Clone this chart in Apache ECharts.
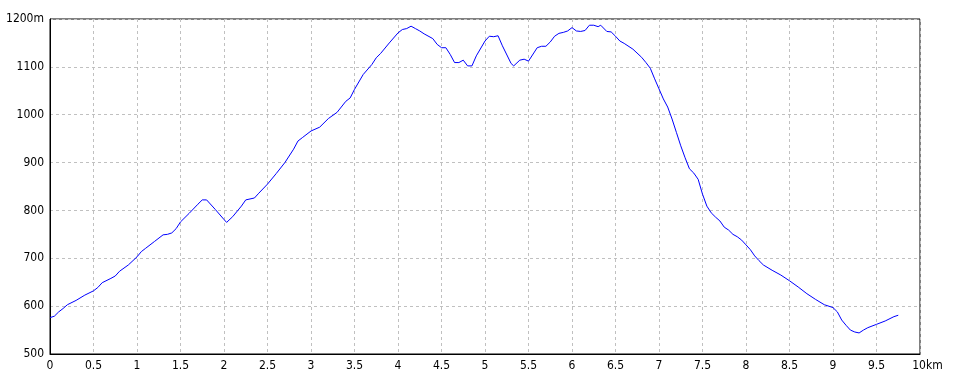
<!DOCTYPE html>
<html>
<head>
<meta charset="utf-8">
<script src="https://cdn.jsdelivr.net/npm/echarts@6/dist/echarts.min.js"></script>
<style>html,body{margin:0;padding:0;background:#fff;}#c{width:960px;height:384px;}</style>
</head>
<body>
<div id="c"></div>
<script>
const distKm = [0,0.05,0.1,0.15,0.2,0.3,0.4,0.5,0.55,0.6,0.7,0.75,0.8,0.9,1.0,1.05,1.1,1.2,1.3,1.35,1.4,1.45,1.5,1.6,1.7,1.75,1.8,1.9,2.0,2.03,2.1,2.2,2.25,2.35,2.4,2.5,2.6,2.7,2.8,2.85,2.9,3.0,3.1,
3.2,3.3,3.4,3.45,3.5,3.6,3.7,3.75,3.8,3.9,4.0,4.05,4.1,4.15,4.2,4.25,4.3,4.32,4.4,4.45,4.5,4.55,4.6,4.65,4.7,4.75,4.8,4.85,4.9,5.0,5.05,5.1,5.15,5.2,5.3,5.33,5.4,5.45,5.5,5.6,5.65,5.7,5.75,5.8,5.85,5.9,5.95,6.0,6.05,6.1,6.15,6.2,6.25,6.3,6.33,6.4,6.45,6.5,6.55,6.6,6.7,6.8,
6.85,6.9,6.95,7.0,7.05,7.1,7.15,7.2,7.25,7.3,7.35,7.4,7.45,7.5,7.55,7.6,7.65,7.7,7.75,7.8,7.85,7.9,7.95,8.0,8.05,8.1,8.15,8.2,8.3,8.4,8.5,8.6,8.7,8.8,8.9,9.0,9.05,9.1,9.15,9.2,9.25,9.3,9.35,9.4,9.5,9.6,9.7,9.75];
const elevM = [576,579,588,595,603,612,623,632,639,649,658,663,673,686,703,714,721,735,749,750,753,762,776,794,813,822,822,802,781,775,787,809,822,826,836,855,877,900,928,945,952,966,974,
992,1005,1028,1035,1053,1084,1105,1119,1128,1150,1171,1178,1180,1185,1180,1175,1169,1172,1159,1147,1140,1140,1126,1109,1109,1114,1102,1102,1123,1154,1164,1163,1165,1144,1107,1102,1114,1116,1112,1140,1143,1143,1152,1164,1170,1172,1175,1182,1175,1174,1176,1187,1187,1184,1187,1174,1173,1164,1154,1149,1137,1120,
1109,1097,1075,1054,1033,1016,991,963,935,910,887,878,865,834,809,795,786,778,765,759,750,745,738,728,718,705,695,686,675,665,653,640,626,614,603,597,588,571,560,550,546,544,550,555,562,569,578,581];
const xTicks = {min:0, max:10, step:0.5, lastLabel:'10km'};
const yTicks = {min:500, max:1200, step:100, lastLabel:'1200m'};

const points = distKm.map((d,i)=>[d, elevM[i]]);
const font = '"DejaVu Sans Condensed","Liberation Sans",sans-serif';
const chart = echarts.init(document.getElementById('c'), null, {renderer:'canvas'});
chart.setOption({
  animation:false,
  backgroundColor:'#fff',
  grid:{left:50,right:40,top:19,bottom:30,show:true,borderColor:'#000',borderWidth:1,backgroundColor:'transparent'},
  xAxis:{type:'value',min:xTicks.min,max:xTicks.max,interval:xTicks.step,
    axisLine:{show:true,lineStyle:{color:'#000',width:1}},
    axisTick:{show:false},
    splitLine:{show:true,lineStyle:{color:'#c0c0c0',type:[3,3],width:1}},
    axisLabel:{margin:6,color:'#000',fontFamily:font,fontSize:12,
      formatter:v=> v===xTicks.max ? '{k|'+xTicks.lastLabel+'}' : String(v),
      rich:{k:{padding:[0,0,0,15],color:'#000',fontFamily:font,fontSize:12}}}
  },
  yAxis:{type:'value',min:yTicks.min,max:yTicks.max,interval:yTicks.step,
    axisLine:{show:true,lineStyle:{color:'#000',width:1}},
    axisTick:{show:false},
    splitLine:{show:true,lineStyle:{color:'#c0c0c0',type:[3,3],width:1}},
    axisLabel:{margin:6,color:'#000',fontFamily:font,fontSize:12,
      formatter:v=> v===yTicks.max ? yTicks.lastLabel : String(v)}
  },
  series:[{type:'line',data:points,showSymbol:false,symbol:'none',
    lineStyle:{color:'#0000ff',width:1},itemStyle:{color:'#0000ff'}}]
});
</script>
</body>
</html>
